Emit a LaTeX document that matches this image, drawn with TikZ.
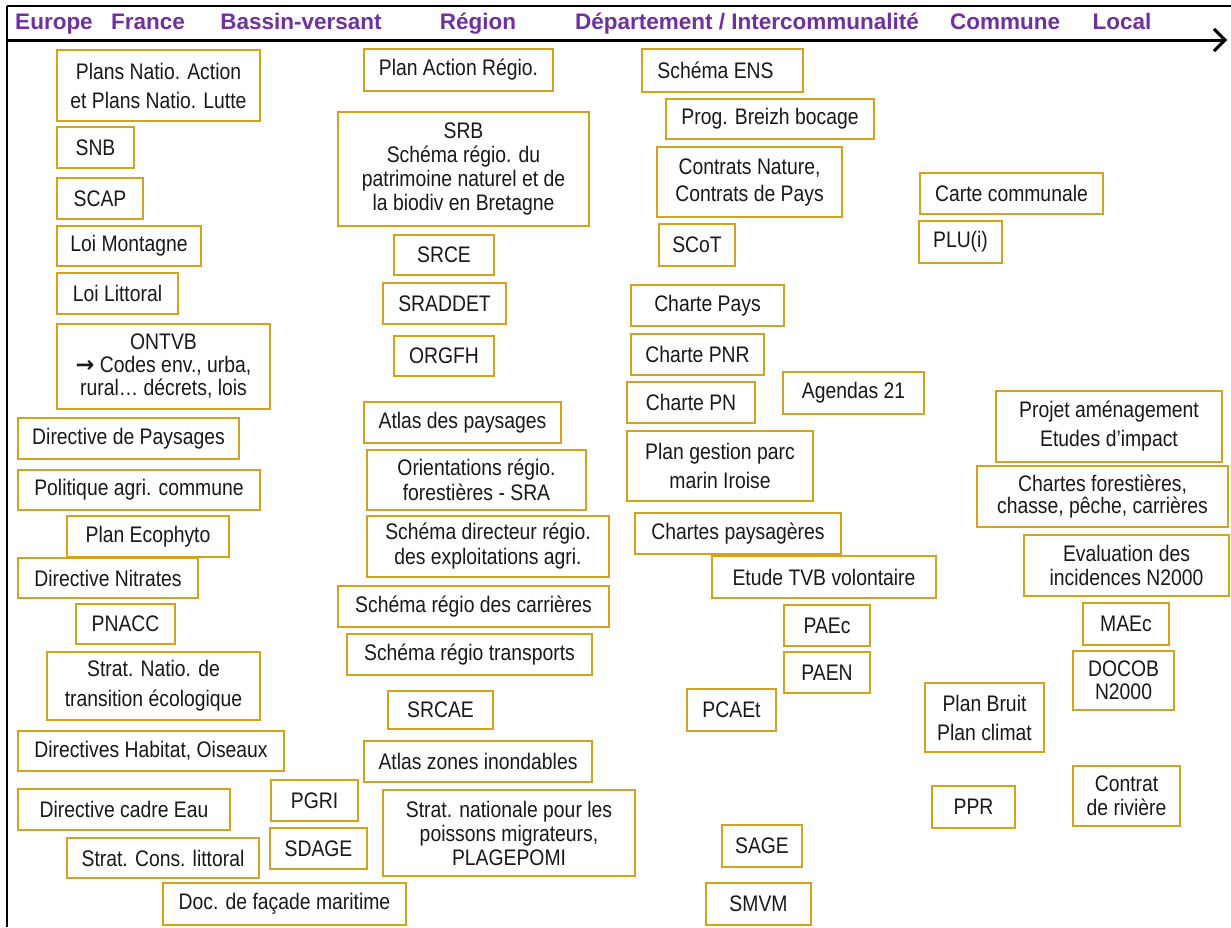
\documentclass[tikz,border=0pt]{standalone}
\usepackage{fontspec}
\setmainfont[FakeStretch=0.86]{Liberation Sans}
\newfontfamily\hdrfont{Liberation Sans}
\newfontfamily\arrowfont{DejaVu Sans}
\usetikzlibrary{arrows.meta}
\definecolor{boxgold}{RGB}{214,162,28}
\definecolor{hdrpurple}{RGB}{112,48,160}
\tikzset{
  box/.style={draw=boxgold,line width=1.8pt,fill=white,inner sep=0pt,align=center,text=black!90},
  hdr/.style={text=hdrpurple,font=\hdrfont\bfseries\fontsize{22.5}{26}\selectfont,inner sep=0pt,anchor=base},
  axis/.style={line width=3pt,-{Straight Barb[length=11pt,width=22pt,line width=3pt]}},
  frameline/.style={line width=2pt}
}
% #1 line spacing, #2 name, #3 x1, #4 y1, #5 x2, #6 y2, #7 text
\newcommand\bx[7][26]{%
  \node[box,minimum width={(#5-#3)*1pt},minimum height={(#6-#4)*1pt},
        font=\fontsize{22.5}{#1}\selectfont]
        (#2) at ({(#3+#5)/2},{(#4+#6)/2}) {#7};}
\begin{document}
\begin{tikzpicture}[x=1pt,y=-1pt]
\useasboundingbox (0,0) rectangle (1231,927);
% frame
\coordinate (tl) at (7,6);
\coordinate (tr) at (1231,6);
\coordinate (bl) at (7,927);
\draw[frameline] (tl) -- (tr);
\draw[line width=2.5pt] (tl) -- (bl);
% axis
\coordinate (a0) at (7,40);
\coordinate (a1) at (1227,40);
\draw[axis] (a0) -- (a1);
% headers
\node[hdr] (hEurope) at (54,29) {Europe};
\node[hdr] (hFrance) at (148,29) {France};
\node[hdr] (hBV) at (301,29) {Bassin-versant};
\node[hdr] (hRegion) at (478,29) {Région};
\node[hdr] (hDep) at (747,29) {Département / Intercommunalité};
\node[hdr] (hCommune) at (1005,29) {Commune};
\node[hdr] (hLocal) at (1122,29) {Local};
% column Europe / France
\bx[29]{pna}{57}{50}{260}{121}{Plans Natio. Action\\et Plans Natio. Lutte}
\bx{snb}{57}{127}{134}{168}{SNB}
\bx{scap}{57}{178}{143}{219}{SCAP}
\bx{montagne}{57}{226}{201}{266}{Loi Montagne}
\bx{littoral}{57}{273}{178}{314}{Loi Littoral}
\bx[23]{ontvb}{57}{324}{270}{409}{ONTVB\\{\arrowfont\bfseries →} Codes env., urba,\\rural… décrets, lois}
\bx{paysages}{18}{418}{239}{459}{Directive de Paysages}
\bx{pac}{18}{470}{260}{510}{Politique agri. commune}
\bx{ecophyto}{67}{516}{229}{557}{Plan Ecophyto}
\bx{nitrates}{18}{558}{198}{598}{Directive Nitrates}
\bx{pnacc}{76}{604}{175}{644}{PNACC}
\bx[30]{snte}{47}{652}{260}{720}{Strat. Natio. de\\transition écologique}
\bx{habitat}{18}{731}{284}{771}{Directives Habitat, Oiseaux}
\bx{dce}{18}{789}{230}{830}{Directive cadre Eau}
\bx{scl}{67}{838}{259}{878}{Strat. Cons. littoral}
\bx{facade}{163}{883}{406}{925}{Doc. de façade maritime}
\bx{pgri}{271}{780}{358}{821}{PGRI}
\bx{sdage}{270}{828}{367}{869}{SDAGE}
% column Région
\bx{par}{364}{49}{553}{91}{Plan Action Régio.}
\bx[24]{srb}{338}{112}{589}{226}{SRB\\Schéma régio. du\\patrimoine naturel et de\\la biodiv en Bretagne}
\bx{srce}{394}{235}{494}{275}{SRCE}
\bx{sraddet}{383}{283}{506}{324}{SRADDET}
\bx{orgfh}{394}{336}{494}{376}{ORGFH}
\bx{atlaspay}{364}{402}{561}{443}{Atlas des paysages}
\bx[25]{orf}{367}{450}{586}{510}{Orientations régio.\\forestières - SRA}
\bx[25]{sdrea}{367}{516}{609}{577}{Schéma directeur régio.\\des exploitations agri.}
\bx{carrieres}{338}{586}{609}{627}{Schéma régio des carrières}
\bx{transports}{347}{634}{592}{675}{Schéma régio transports}
\bx{srcae}{388}{691}{493}{729}{SRCAE}
\bx{azi}{364}{741}{592}{782}{Atlas zones inondables}
\bx[24]{plagepomi}{383}{790}{635}{876}{Strat. nationale pour les\\poissons migrateurs,\\PLAGEPOMI}
% column Département
\bx{ens}{642}{49}{803}{92}{Schéma ENS\hspace*{14pt}}
\bx{bocage}{666}{99}{874}{139}{Prog. Breizh bocage}
\bx[27]{contrats}{657}{147}{842}{217}{Contrats Nature,\\Contrats de Pays}
\bx{scot}{659}{224}{735}{266}{SCoT}
\bx{chpays}{631}{285}{784}{326}{Charte Pays}
\bx{chpnr}{631}{334}{764}{375}{Charte PNR}
\bx{chpn}{627}{382}{755}{423}{Charte PN}
\bx[29]{iroise}{627}{431}{813}{501}{Plan gestion parc\\marin Iroise}
\bx{chpaysag}{635}{513}{841}{554}{Chartes paysagères}
\bx{agendas}{783}{372}{924}{414}{Agendas 21}
\bx{tvb}{712}{556}{936}{598}{Etude TVB volontaire}
\bx{paec}{784}{605}{870}{646}{PAEc}
\bx{paen}{784}{652}{870}{693}{PAEN}
\bx{pcaet}{687}{689}{776}{731}{PCAEt}
\bx{sage}{722}{825}{802}{867}{SAGE}
\bx{smvm}{706}{883}{811}{925}{SMVM}
% column Commune
\bx{cartecom}{920}{173}{1103}{214}{Carte communale}
\bx{plui}{919}{221}{1002}{263}{PLU(i)}
\bx[29]{bruit}{925}{683}{1044}{752}{Plan Bruit\\Plan climat}
\bx{ppr}{932}{786}{1015}{828}{PPR}
% column Local
\bx[29]{projet}{996}{391}{1222}{462}{Projet aménagement\\Etudes d’impact}
\bx[22]{forest}{977}{466}{1228}{527}{Chartes forestières,\\chasse, pêche, carrières}
\bx[24]{n2000}{1024}{535}{1229}{596}{Evaluation des\\incidences N2000}
\bx{maec}{1083}{603}{1169}{645}{MAEc}
\bx[23]{docob}{1073}{651}{1174}{710}{DOCOB\\N2000}
\bx[24]{riviere}{1073}{766}{1180}{826}{Contrat\\de rivière}
\end{tikzpicture}
\end{document}
